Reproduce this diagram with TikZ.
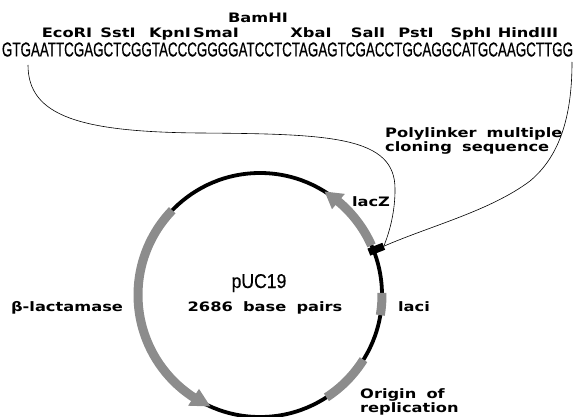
\documentclass[tikz,border=0pt]{standalone}
\usepackage{fontspec}
\usepackage{tikz}
\usetikzlibrary{positioning}
\newfontfamily\labfont[FakeStretch=1.25,WordSpace=1.8]{DejaVu Sans Bold}
\newfontfamily\seqfont[FakeBold=0.6]{Liberation Sans}
\newfontfamily\namefont[FakeStretch=0.88,FakeBold=0.3]{Liberation Sans}
\colorlet{bandgray}{black!45}

\begin{document}
\begin{tikzpicture}[x=1pt, y=1pt,
    tag/.style = {font=\labfont\fontsize{13}{14}\selectfont, inner sep=0pt},
    gene/.style = {draw=bandgray, line width=9},
    genehead/.style = {fill=bandgray},
    linker/.style = {draw=black, line width=0.6}]
    \useasboundingbox (0,0) rectangle (575,416);
    \begin{scope}
        \node[inner sep=0pt] (seq) at (287.5,366.5) {\resizebox{571pt}{14pt}{\seqfont GTGAATTCGAGCTCGGTACCCGGGGATCCTCTAGAGTCGACCTGCAGGCATGCAAGCTTGG}};
        \node[tag, anchor=base] (ecori) at (67,378) {EcoRI};
        \node[tag, anchor=base] (ssti) at (118,378) {SstI};
        \node[tag, anchor=base] (kpni) at (170,378) {KpnI};
        \node[tag, anchor=base] (smai) at (216,378) {SmaI};
        \node[tag, anchor=base] (bamhi) at (258,393) {BamHI};
        \node[tag, anchor=base] (xbai) at (311,378) {XbaI};
        \node[tag, anchor=base] (sali) at (368,378) {SalI};
        \node[tag, anchor=base] (psti) at (416,378) {PstI};
        \node[tag, anchor=base] (sphi) at (471,378) {SphI};
        \node[tag, anchor=base] (hindiii) at (528,378) {HindIII};
        \coordinate (seqleft) at (28,351);
        \coordinate (seqright) at (572,354);
    \end{scope}
    \begin{scope}[shift={(260,121)}]
        \draw[line width=3.8] (0,0) circle (122);
        \draw[gene] (24:122) arc[start angle=24, end angle=51, radius=122];
        \fill[genehead] (50:112) -- (58:122) -- (50:132) -- cycle;
        \draw[gene] (136:122) arc[start angle=136, end angle=238, radius=122];
        \fill[genehead] (237:112) -- (246:122) -- (237:132) -- cycle;
        \draw[gene] (-9.5:122) arc[start angle=-9.5, end angle=1, radius=122];
        \draw[gene] (-57:122) arc[start angle=-57, end angle=-32, radius=122];
        \draw[line width=7.5] (21.5:117) -- (21.5:133);
        \coordinate (poly) at (21.5:133);
    \end{scope}
    \draw[linker] (seqleft) .. controls (28,300) and (80,284) .. (200,283)
        .. controls (330,282) and (396,280) .. (395,226)
        .. controls (395,205) and (390,185) .. (poly);
    \draw[linker] (seqright) .. controls (572,300) and (560,260) .. (530,235)
        .. controls (490,205) and (430,190) .. (poly);
    \node[tag, anchor=north west, align=left] (polytext) at (385,289) {Polylinker multiple\\cloning sequence};
    \node[tag, anchor=base] (lacz) at (371,210) {lacZ};
    \node[tag, anchor=base] (laci) at (414,105) {laci};
    \node[tag, anchor=base] (bla) at (67,105) {β-lactamase};
    \node[tag, anchor=north west, align=left] (ori) at (360,28) {Origin of\\replication};
    \node[inner sep=0pt, anchor=base, font=\namefont\fontsize{20}{22}\selectfont] (name) at (259,128) {pUC19};
    \node[tag, anchor=base] (size) at (265,105) {2686 base pairs};
\end{tikzpicture}
\end{document}
